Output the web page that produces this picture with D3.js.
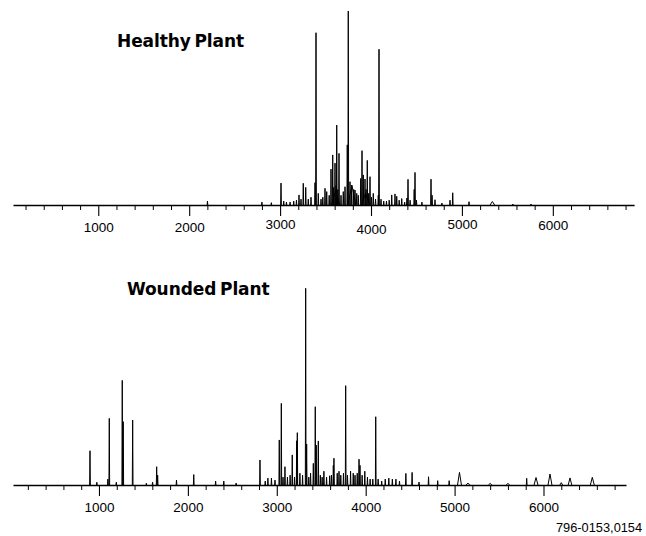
<!DOCTYPE html>
<html>
<head>
<meta charset="utf-8">
<script src="https://cdn.jsdelivr.net/npm/d3@7/dist/d3.min.js"></script>
<style>
  html, body { margin: 0; padding: 0; background: #fff; }
  svg { display: block; }
</style>
</head>
<body>
<svg id="chart" width="646" height="536"></svg>
<script>
// ---------------- DATA ----------------
const majorTicks = [1000, 2000, 3000, 4000, 5000, 6000];
const majorTickLabels = ["1000", "2000", "3000", "4000", "5000", "6000"];
const panelTitles = ["Healthy Plant", "Wounded Plant"];
const footnote = "796-0153,0154";

// [m/z, relative intensity (% of panel max), optional half-width in m/z]
const healthyPeaks = [
  [2201, 2], [2800, 1.5], [2904, 1.2],
  [3010, 11.3], [3040, 2], [3070, 1.5], [3110, 1.5], [3150, 2], [3180, 2.5],
  [3208, 5.2], [3230, 3], [3255, 11.2], [3282, 9.1], [3310, 3], [3340, 4],
  [3384, 11.5], [3395, 88.8], [3420, 6], [3450, 3], [3470, 4], [3494, 8.6], [3513, 6.9],
  [3540, 5], [3560, 18.5], [3579, 25.8], [3590, 9], [3604, 21.6], [3615, 10], [3623, 41.2],
  [3635, 8], [3648, 26.6], [3610, 7, 45],
  [3670, 5], [3695, 6.9], [3714, 9.4], [3739, 31], [3750, 100],
  [3790, 10, 45], [3769, 12], [3788, 10.3], [3810, 8], [3824, 7.7], [3843, 6], [3860, 5],
  [3887, 13.7], [3901, 28], [3915, 15.5], [3934, 13.4], [3945, 8], [3959, 23], [3975, 6], [3989, 14.6],
  [3940, 6, 45],
  [4005, 4], [4025, 6], [4050, 3], [4080, 5], [4088, 80.3], [4110, 3], [4140, 2],
  [4170, 2], [4200, 2.5], [4228, 5.2], [4264, 5.7], [4283, 4.5], [4310, 2.5], [4338, 3.3],
  [4370, 1.5], [4395, 3.6], [4407, 13.2], [4430, 2.5], [4475, 8], [4484, 16.8], [4500, 2.5],
  [4560, 1.5], [4660, 13.3], [4672, 5], [4704, 2.7], [4780, 1], [4869, 2.5], [4899, 6.3],
  [5078, 1.7], [5335, 1.8, 25], [5560, 0.5], [5760, 0.5]
];

const woundedPeaks = [
  [899, 17.4], [976, 1.4], [1100, 3], [1116, 33.9], [1195, 1.4],
  [1262, 53.2], [1273, 32.2], [1379, 33], [1533, 0.9], [1603, 1.4],
  [1649, 9.3], [1660, 5], [1872, 2.5], [2066, 5.3], [2312, 2], [2404, 2], [2543, 1],
  [2811, 12.7], [2870, 2], [2900, 3.5], [2940, 3.5], [2980, 2.5],
  [3028, 22.9], [3051, 41.5], [3070, 4], [3092, 9.3], [3120, 4], [3150, 5],
  [3174, 15.3], [3200, 4], [3224, 22.5], [3231, 26.6], [3260, 6], [3290, 5],
  [3325, 100], [3336, 20.8], [3360, 4], [3380, 6], [3411, 11], [3433, 39.8],
  [3444, 20.3], [3467, 22.4], [3490, 5], [3510, 4], [3530, 7], [3560, 4], [3595, 4.7],
  [3615, 5], [3636, 10], [3643, 13.6], [3680, 6], [3700, 7], [3720, 5], [3750, 6],
  [3775, 50.5], [3795, 5], [3830, 7], [3860, 6], [3880, 5], [3905, 6], [3925, 13.1],
  [3936, 10], [3960, 5], [3990, 7], [4020, 4], [4050, 3], [4080, 3], [4113, 34.7],
  [4140, 3], [4180, 2], [4220, 3], [4260, 3.5], [4300, 3], [4340, 3], [4380, 2],
  [4452, 5.9], [4522, 6.4], [4600, 1.5], [4707, 4.2], [4810, 2.2], [4939, 2.2],
  [5055, 6.4, 22], [5150, 1, 20], [5400, 0.8, 20], [5600, 0.8, 20],
  [5811, 3.4], [5916, 3.8, 22], [6073, 5.6, 22], [6200, 1.2, 15], [6298, 3.6, 20],
  [6549, 3.9, 22]
];

// ---------------- LAYOUT / STYLE ----------------
const svg = d3.select("#chart");
svg.append("rect").attr("width", 646).attr("height", 536).attr("fill", "#fff");

const panels = [
  { peaks: healthyPeaks, title: panelTitles[0], titleX: 117, titleY: 47,
    x: d3.scaleLinear().domain([62, 6894]).range([13.0, 634.1]),
    y: d3.scaleLinear().domain([0, 100]).range([205, 11]),
    labelDy: [0, 0, -2.5, 2.5, -2.5, -2] },
  { peaks: woundedPeaks, title: panelTitles[1], titleX: 127, titleY: 294.5,
    x: d3.scaleLinear().domain([33, 6928]).range([13.0, 626.0]),
    y: d3.scaleLinear().domain([0, 100]).range([485, 288.3]),
    labelDy: [0, 0, 0, 0, 0, 0] }
];

const minorTicks = d3.range(200, 6801, 200).filter(v => v % 1000 !== 0);

panels.forEach(p => {
  const g = svg.append("g");
  const base = p.y(0);

  // spectrum peaks
  const defaultHalfWidth = 4;
  g.append("g").selectAll("path")
    .data(p.peaks)
    .join("path")
    .attr("d", d => {
      const hw = d[2] || defaultHalfWidth;
      return "M" + p.x(d[0] - hw) + "," + base +
             "L" + p.x(d[0]) + "," + p.y(d[1]) +
             "L" + p.x(d[0] + hw) + "," + base;
    })
    .attr("fill", "none")
    .attr("stroke", "#000")
    .attr("stroke-width", 1);

  // minor ticks
  const minorAxis = d3.axisBottom(p.x).tickValues(minorTicks)
    .tickSize(5).tickSizeOuter(0).tickFormat("");
  const gm = g.append("g").attr("transform", `translate(0,${base})`).call(minorAxis);
  gm.select(".domain").attr("stroke", "#000").attr("stroke-width", 1.4);
  gm.selectAll(".tick line").attr("stroke", "#000").attr("stroke-width", 1);

  // major ticks with labels
  const majorAxis = d3.axisBottom(p.x).tickValues(majorTicks)
    .tickSize(11).tickSizeOuter(0).tickPadding(6)
    .tickFormat((d, i) => majorTickLabels[i]);
  const gM = g.append("g").attr("transform", `translate(0,${base})`).call(majorAxis);
  gM.select(".domain").remove();
  gM.selectAll(".tick line").attr("stroke", "#000").attr("stroke-width", 1.1);
  gM.selectAll(".tick text")
    .attr("font-family", "'Liberation Sans', Arial, sans-serif")
    .attr("font-size", 13.5)
    .attr("fill", "#000")
    .attr("transform", (d, i) => `translate(0,${p.labelDy[i]})`);

  // title
  g.append("text")
    .attr("x", p.titleX).attr("y", p.titleY)
    .attr("font-family", "'DejaVu Sans', sans-serif")
    .attr("font-weight", "bold")
    .attr("font-size", 17)
    .attr("letter-spacing", -0.1)
    .attr("word-spacing", -2)
    .attr("fill", "#000")
    .text(p.title);
});

svg.append("text")
  .attr("x", 556).attr("y", 532)
  .attr("font-family", "'Liberation Sans', Arial, sans-serif")
  .attr("font-size", 12.8)
  .attr("fill", "#000")
  .text(footnote);
</script>
</body>
</html>
